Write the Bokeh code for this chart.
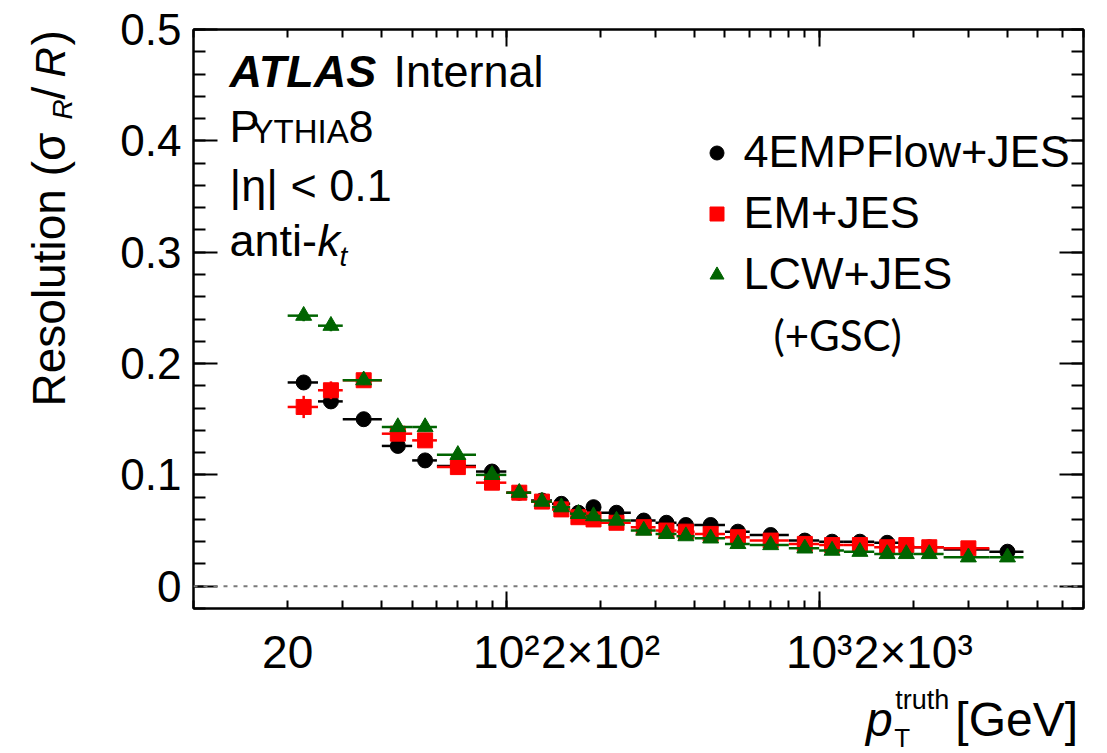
import math
from bokeh.plotting import figure
from bokeh.layouts import row, column
from bokeh.models import (FixedTicker, LogAxis, LinearAxis, Span, Label, Legend,
                          LegendItem, ColumnDataSource, Range1d)
from bokeh.embed import file_html
from bokeh.resources import INLINE

# ---------------- data ----------------
bin_edges = [20, 25, 30, 40, 50, 60, 80, 100, 120, 140, 160, 180, 200, 250, 300,
             350, 400, 500, 600, 800, 1000, 1200, 1500, 1800, 2000, 2500, 3500, 4500]

res_pflow = [0.183, 0.166, 0.150, 0.126, 0.113, 0.108, 0.103, 0.084, 0.077, 0.074,
             0.066, 0.071, 0.066, 0.059, 0.057, 0.055, 0.055, 0.049, 0.046, 0.041,
             0.040, 0.040, 0.039, 0.036, 0.035, 0.033, 0.031]
err_pflow = [0.004, 0.004, 0.003, 0.003, 0.003, 0.002, 0.002, 0.002, 0.002, 0.002,
             0.002, 0.002, 0.002, 0.001, 0.001, 0.001, 0.001, 0.001, 0.001, 0.001,
             0.001, 0.001, 0.001, 0.001, 0.001, 0.001, 0.001]

res_em = [0.161, 0.176, 0.185, 0.137, 0.131, 0.107, 0.093, 0.084, 0.076, 0.069,
          0.062, 0.060, 0.057, 0.053, 0.050, 0.049, 0.047, 0.044, 0.041, 0.038,
          0.037, 0.037, 0.035, 0.037, 0.035, 0.034]
err_em = [0.010, 0.008, 0.005, 0.005, 0.004, 0.003, 0.003, 0.002, 0.002, 0.002,
          0.002, 0.002, 0.002, 0.001, 0.001, 0.001, 0.001, 0.001, 0.001, 0.001,
          0.001, 0.001, 0.001, 0.001, 0.001, 0.001]

res_lcw = [0.243, 0.234, 0.185, 0.143, 0.143, 0.118, 0.100, 0.084, 0.076, 0.071,
           0.065, 0.063, 0.059, 0.050, 0.047, 0.045, 0.043, 0.038, 0.037, 0.034,
           0.032, 0.031, 0.029, 0.029, 0.029, 0.026, 0.026]
err_lcw = [0.005, 0.005, 0.004, 0.004, 0.004, 0.003, 0.003, 0.002, 0.002, 0.002,
           0.002, 0.002, 0.002, 0.001, 0.001, 0.001, 0.001, 0.001, 0.001, 0.001,
           0.001, 0.001, 0.001, 0.001, 0.001, 0.001, 0.001]

series_names = ["4EMPFlow+JES", "EM+JES", "LCW+JES"]
series_colors = ["#000000", "#ff0000", "#006400"]

y_ticks = [0, 0.1, 0.2, 0.3, 0.4, 0.5]
y_tick_labels = ["0", "0.1", "0.2", "0.3", "0.4", "0.5"]
x_label_ticks = [20, 100, 200, 1000, 2000]
x_tick_labels = ["20", "10\u00b2", "2\u00d710\u00b2", "10\u00b3", "2\u00d710\u00b3"]
x_long_ticks = [100, 1000]

# ---------------- layout (page pixels) ----------------
W, H = 1107, 753
LEFT_STRIP = 100          # strip holding the rotated y title
BOTTOM_STRIP = 69         # strip holding the x title
MW, MH = W - LEFT_STRIP, H - BOTTOM_STRIP
FL, FR, FT, FB = 193, 1083, 29, 608   # frame edges on the page
X0, X1 = 10, 7000
Y0, Y1 = -0.02, 0.5
FONT = "Liberation Sans"
BASE_K = 0.37      # baseline correction (fraction of font size)
BASE_K_ROT = 0.45


def px_to_x(px):
    return 10 ** (math.log10(X0) + (px - FL) / (FR - FL) * (math.log10(X1) - math.log10(X0)))


def py_to_y(py):
    return Y0 + (FB - py) / (FB - FT) * (Y1 - Y0)


p = figure(width=MW, height=MH, x_axis_type="log",
           x_range=Range1d(X0, X1), y_range=Range1d(Y0, Y1),
           x_axis_location=None, y_axis_location=None,
           output_backend="svg", toolbar_location=None,
           min_border_left=FL - LEFT_STRIP, min_border_right=W - FR,
           min_border_top=FT, min_border_bottom=MH - FB)
p.grid.visible = False
p.background_fill_color = "white"
p.border_fill_color = "white"
p.outline_line_color = "black"
p.outline_line_width = 2

x_minor = [m * 10 ** e for e in range(1, 4) for m in range(1, 10) if m * 10 ** e <= X1]
y_minor = [round(-0.02 + 0.02 * i, 2) for i in range(27)]


def style(ax, major_in, minor_in, labels):
    ax.major_tick_in = major_in
    ax.major_tick_out = 0
    ax.minor_tick_in = minor_in
    ax.minor_tick_out = 0
    ax.axis_line_width = 2
    ax.major_tick_line_width = 2
    ax.minor_tick_line_width = 2
    ax.axis_line_color = "black"
    ax.major_tick_line_color = "black"
    ax.minor_tick_line_color = "black"
    if not labels:
        ax.major_label_text_font_size = "2px"
        ax.major_label_text_alpha = 0
        ax.major_label_standoff = 0


ax_b_ticks = LogAxis(ticker=FixedTicker(ticks=x_long_ticks, minor_ticks=x_minor))
style(ax_b_ticks, 17, 8, False)
p.add_layout(ax_b_ticks, "below")

ax_b_lab = LogAxis(ticker=FixedTicker(ticks=x_label_ticks, minor_ticks=[]))
style(ax_b_lab, 0, 0, True)
ax_b_lab.axis_line_color = None
ax_b_lab.major_tick_line_color = None
ax_b_lab.major_label_overrides = dict(zip(x_label_ticks, x_tick_labels))
ax_b_lab.major_label_text_font = FONT
ax_b_lab.major_label_text_font_size = "46px"
ax_b_lab.major_label_text_color = "black"
ax_b_lab.major_label_standoff = 17
p.add_layout(ax_b_lab, "below")

ax_t = LogAxis(ticker=FixedTicker(ticks=x_long_ticks, minor_ticks=x_minor))
style(ax_t, 17, 8, False)
p.add_layout(ax_t, "above")

ax_l = LinearAxis(ticker=FixedTicker(ticks=y_ticks, minor_ticks=y_minor))
style(ax_l, 24, 12, True)
ax_l.major_label_overrides = dict(zip(y_ticks, y_tick_labels))
ax_l.major_label_text_font = FONT
ax_l.major_label_text_font_size = "44px"
ax_l.major_label_text_color = "black"
ax_l.major_label_standoff = 12
p.add_layout(ax_l, "left")

ax_r = LinearAxis(ticker=FixedTicker(ticks=y_ticks, minor_ticks=y_minor))
style(ax_r, 24, 12, False)
p.add_layout(ax_r, "right")

p.add_layout(Span(location=0, dimension="width", line_color="#7a7a7a",
                  line_width=2, line_dash="4 6"))

# ---------------- series ----------------
all_res = [res_pflow, res_em, res_lcw]
all_err = [err_pflow, err_em, err_lcw]
markers = ["circle", "square", "triangle"]
sizes = [15, 15, 16]
renderers = []
for name, col, res, err, mk, sz in zip(series_names, series_colors, all_res, all_err, markers, sizes):
    n = len(res)
    lo = bin_edges[:n]
    hi = bin_edges[1:n + 1]
    ctr = [(a + b) / 2 for a, b in zip(lo, hi)]
    src = ColumnDataSource(dict(lo=lo, hi=hi, x=ctr, y=res,
                                ylo=[v - e for v, e in zip(res, err)],
                                yhi=[v + e for v, e in zip(res, err)]))
    p.segment(x0="lo", x1="hi", y0="y", y1="y", source=src, line_color=col, line_width=2.5)
    p.segment(x0="x", x1="x", y0="ylo", y1="yhi", source=src, line_color=col, line_width=2.5)
    r = p.scatter(x="x", y="y", source=src, marker=mk, size=sz, fill_color=col, line_color=col)
    renderers.append(r)

GW = 35
ROW = 61
leg_top = 121.5
leg_left = 716 - GW / 2
legend = Legend(items=[LegendItem(label=n, renderers=[r]) for n, r in zip(series_names, renderers)],
                location=(leg_left - FL, FB - (leg_top + 3 * ROW)), orientation="vertical",
                label_text_font=FONT, label_text_font_size="45px", label_text_color="black",
                glyph_width=GW, glyph_height=ROW, label_height=ROW, spacing=0,
                label_standoff=int(744 - (leg_left + GW)), padding=0, margin=0,
                background_fill_alpha=0, border_line_alpha=0)
p.add_layout(legend, "center")


def txt(fig, x, y, text, size=45, style="normal", angle=0, font=FONT):
    fig.add_layout(Label(x=x, y=y, text=text, text_font=font,
                         text_font_size=f"{size}px", text_font_style=style, text_align="left",
                         text_baseline="alphabetic", angle=angle, text_color="black"))


def ptxt(px, py, text, size=45, **kw):
    # px, py: left end and baseline of the text on the page
    txt(p, px_to_x(px), py_to_y(py - BASE_K * size), text, size=size, **kw)


# ATLAS block
ptxt(229, 88, "ATLAS", style="bold italic")
ptxt(393, 88, "Internal")
ptxt(229, 143, "P")
ptxt(251, 143, "YTHIA", size=33)
ptxt(348, 143, "8")
ptxt(229, 202, "|\u03b7| < 0.1")
ptxt(229, 257, "anti-")
ptxt(317, 257, "k", style="italic")
ptxt(339, 266, "t", size=28, style="italic")

# legend footnote
ptxt(773, 350, "(+GSC)", size=42, font="Lato")


def strip(w, h, xr, yr):
    f = figure(width=w, height=h, x_range=Range1d(*xr), y_range=Range1d(*yr),
               x_axis_location=None, y_axis_location=None,
               output_backend="svg", toolbar_location=None,
               min_border_left=0, min_border_right=0, min_border_top=0, min_border_bottom=0)
    f.grid.visible = False
    f.outline_line_color = None
    f.background_fill_color = "white"
    f.border_fill_color = "white"
    return f


# y-axis title strip (coordinates = page pixels)
ys = strip(LEFT_STRIP, H, (0, LEFT_STRIP), (H, 0))
rot = math.pi / 2


def rtxt(bx, by, text, size=46, **kw):
    # bx: baseline x on the page, by: start (lower end) of the rotated text
    txt(ys, bx - BASE_K_ROT * size, by, text, size=size, angle=rot, **kw)


rtxt(69, 406, "Resolution (\u03c3")
rtxt(75, 119, "R", size=28, style="italic")
rtxt(69, 99, "/")
rtxt(69, 77, "R", size=42, style="italic")
rtxt(69, 45, ")")

# x-axis title strip (coordinates = page pixels)
xs = strip(MW, BOTTOM_STRIP, (LEFT_STRIP, W), (H, MH))


def xtxt(px, py, text, size=48, **kw):
    txt(xs, px, py - BASE_K * size, text, size=size, **kw)


xtxt(861, 737, "p", style="italic")
xtxt(894, 709, "truth", size=27)
xtxt(893, 747, "T", size=26)
xtxt(962, 737, "[GeV]")

layout = row(ys, column(p, xs, spacing=0), spacing=0)
open("out.html", "w").write(file_html(layout, INLINE))
